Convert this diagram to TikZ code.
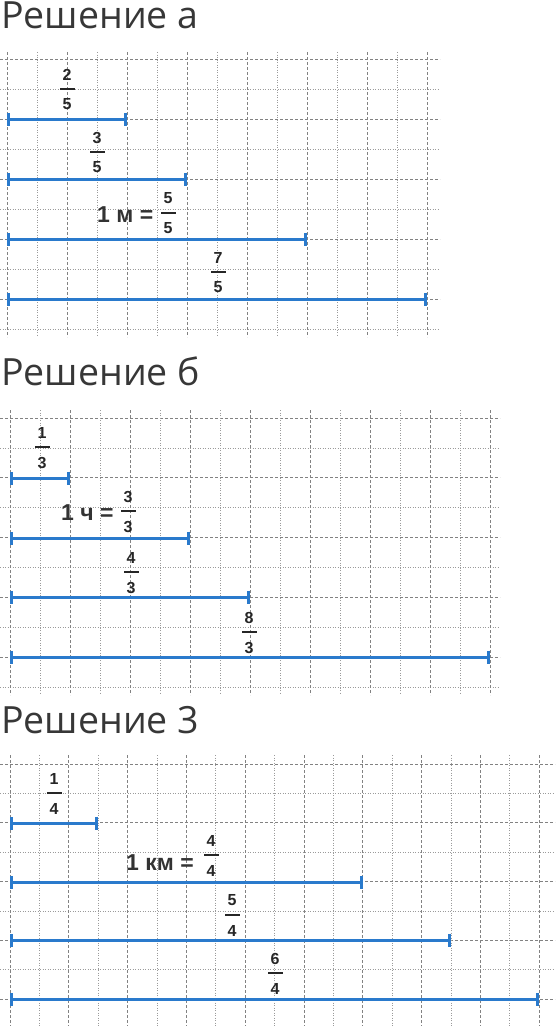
\documentclass[tikz,border=0pt]{standalone}
\usepackage{fontspec}
\setmainfont{Liberation Sans}
\newfontfamily\titlefont{Open Sans}
\usetikzlibrary{arrows.meta}
\definecolor{segblue}{RGB}{42,122,204}
\definecolor{gridc}{RGB}{130,130,130}
\definecolor{titlec}{RGB}{55,55,55}
\newcommand\fr[5]{%
  \node[fbar] (#1) at (#2,#3) {};
  \node[fnum] (#1n) at (#2,#3-14.5) {#4};
  \node[fnum] (#1d) at (#2,#3+15.5) {#5};}
\begin{document}
\begin{tikzpicture}[x=1pt,y=-1pt,
  title/.style={font=\titlefont\fontsize{37.5}{40}\selectfont, text=titlec, anchor=base west, inner sep=0pt},
  gmaj/.style={gridc, line width=0.8pt, dash pattern=on 3pt off 2pt},
  gmin/.style={gridc!80, line width=0.8pt, dash pattern=on 1pt off 1.5pt},
  seg/.style={segblue, line width=3pt, {Bar[width=13pt,line width=3pt]}-{Bar[width=13pt,line width=3pt]}},
  fbar/.style={fill=black!85, minimum width=15pt, minimum height=1.6pt, inner sep=0pt},
  fnum/.style={font=\bfseries\fontsize{16}{17}\selectfont, text=black!85, inner sep=0pt, anchor=center},
  eqtxt/.style={font=\bfseries\fontsize{23}{25}\selectfont, text=black!80, anchor=base west, inner sep=0pt}
]
\useasboundingbox (0,0) rectangle (555,1026);

% ---------- Section a ----------
\node[title] (ta) at (1,28) {Решение а};
\foreach \j in {0,...,9}{
  \pgfmathtruncatemacro\ev{mod(\j,2)}
  \ifnum\ev=0 \draw[gmaj] (0,59+30*\j) -- (440,59+30*\j);
  \else \draw[gmin] (0,59+30*\j) -- (440,59+30*\j); \fi}
\foreach \k in {0,...,14}{
  \pgfmathtruncatemacro\ev{mod(\k,2)}
  \ifnum\ev=0 \draw[gmaj] (7+30*\k,52) -- (7+30*\k,337);
  \else \draw[gmin] (7+30*\k,52) -- (7+30*\k,337); \fi}
\coordinate (a1s) at (7,119);  \coordinate (a1e) at (127,119);
\coordinate (a2s) at (7,179);  \coordinate (a2e) at (187,179);
\coordinate (a3s) at (7,239);  \coordinate (a3e) at (307,239);
\coordinate (a4s) at (7,299);  \coordinate (a4e) at (427,299);
\draw[seg] (a1s) -- (a1e);
\draw[seg] (a2s) -- (a2e);
\draw[seg] (a3s) -- (a3e);
\draw[seg] (a4s) -- (a4e);
\fr{fa1}{67}{89}{2}{5}
\fr{fa2}{97}{152}{3}{5}
\node[eqtxt] (ea) at (97,222) {1 м =};
\fr{fa3}{168}{213}{5}{5}
\fr{fa4}{218}{272}{7}{5}

% ---------- Section b ----------
\node[title] (tb) at (1,385) {Решение б};
\foreach \j in {0,...,9}{
  \pgfmathtruncatemacro\ev{mod(\j,2)}
  \ifnum\ev=0 \draw[gmaj] (0,418+29.9*\j) -- (500,418+29.9*\j);
  \else \draw[gmin] (0,418+29.9*\j) -- (500,418+29.9*\j); \fi}
\foreach \k in {0,...,16}{
  \pgfmathtruncatemacro\ev{mod(\k,2)}
  \ifnum\ev=0 \draw[gmaj] (10+30*\k,410) -- (10+30*\k,695);
  \else \draw[gmin] (10+30*\k,410) -- (10+30*\k,695); \fi}
\coordinate (b1s) at (10,478);  \coordinate (b1e) at (70,478);
\coordinate (b2s) at (10,538);  \coordinate (b2e) at (190,538);
\coordinate (b3s) at (10,597);  \coordinate (b3e) at (250,597);
\coordinate (b4s) at (10,657);  \coordinate (b4e) at (490,657);
\draw[seg] (b1s) -- (b1e);
\draw[seg] (b2s) -- (b2e);
\draw[seg] (b3s) -- (b3e);
\draw[seg] (b4s) -- (b4e);
\fr{fb1}{42}{447}{1}{3}
\node[eqtxt] (eb) at (61,520) {1 ч =};
\fr{fb2}{128}{511}{3}{3}
\fr{fb3}{131}{572}{4}{3}
\fr{fb4}{249}{632}{8}{3}

% ---------- Section 3 ----------
\node[title] (tc) at (1,733) {Решение 3};
\foreach \j in {0,...,9}{
  \pgfmathtruncatemacro\ev{mod(\j,2)}
  \ifnum\ev=0 \draw[gmaj] (0,764+29.4*\j) -- (555,764+29.4*\j);
  \else \draw[gmin] (0,764+29.4*\j) -- (555,764+29.4*\j); \fi}
\foreach \k in {0,...,18}{
  \pgfmathtruncatemacro\ev{mod(\k,2)}
  \ifnum\ev=0 \draw[gmaj] (10+29.4*\k,755) -- (10+29.4*\k,1026);
  \else \draw[gmin] (10+29.4*\k,755) -- (10+29.4*\k,1026); \fi}
\coordinate (c1s) at (10,823);  \coordinate (c1e) at (98,823);
\coordinate (c2s) at (10,882);  \coordinate (c2e) at (363,882);
\coordinate (c3s) at (10,940);  \coordinate (c3e) at (451,940);
\coordinate (c4s) at (10,999);  \coordinate (c4e) at (539,999);
\draw[seg] (c1s) -- (c1e);
\draw[seg] (c2s) -- (c2e);
\draw[seg] (c3s) -- (c3e);
\draw[seg] (c4s) -- (c4e);
\fr{fc1}{54}{793}{1}{4}
\node[eqtxt] (ec) at (126,870) {1 км =};
\fr{fc2}{211}{855}{4}{4}
\fr{fc3}{232}{915}{5}{4}
\fr{fc4}{275}{973}{6}{4}
\end{tikzpicture}
\end{document}
